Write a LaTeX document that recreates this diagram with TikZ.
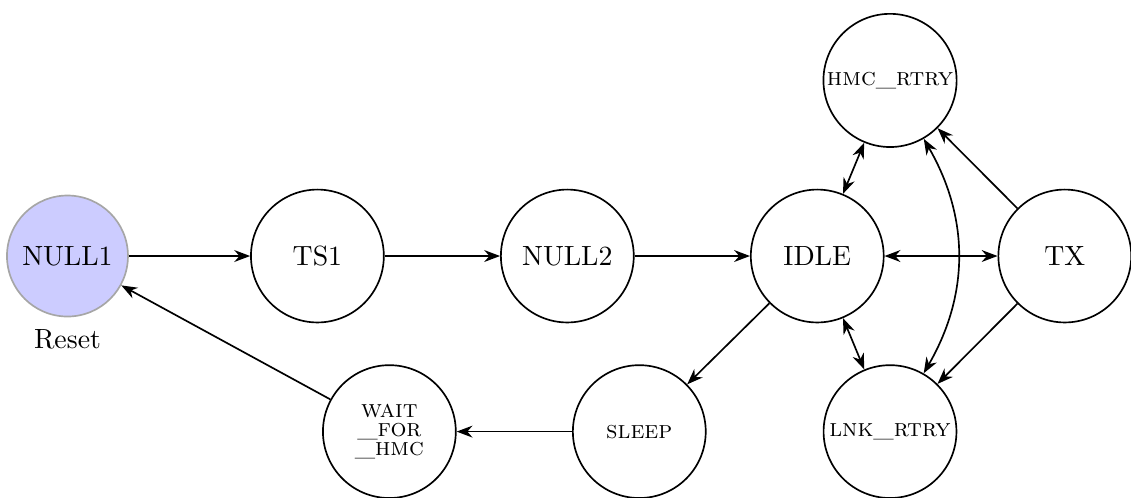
\documentclass[tikz,border=0pt]{standalone}
\usetikzlibrary{arrows.meta,
                positioning}

\begin{document}
\begin{tikzpicture}[
        node distance=3.16cm,
        state/.style={circle, minimum size=1.68cm, inner sep=1pt, text centered, draw=black, semithick},
        start/.style={circle, minimum size=1.53cm, inner sep=1pt, text centered, draw=gray!70, semithick, fill=blue!20},
        minor/.style={state, font=\small\scshape, align=center}
        ]
        \useasboundingbox (0,0) rectangle (14.30,6.296);

        \node (null1)   [start, label={[label distance=1pt]below:Reset}] at (0.853,3.059) {NULL1};
        \node (ts1)     [state, right of=null1]                                 {TS1};
        \node (null2)   [state, right of=ts1]                                   {NULL2};
        \node (idle)    [state, right of=null2]                                 {IDLE};
        \node (tx)      [state, right of=idle, xshift=-0.03cm]                  {TX};
        \node (hmcrtry) [minor, above of=idle, xshift=0.92cm, yshift=-0.94cm]   {hmc\_rtry};
        \node (lnkrtry) [minor, below of=idle, xshift=0.92cm, yshift=0.94cm]    {lnk\_rtry};
        \node (sleep)   [minor, below of=null2, xshift=0.91cm, yshift=0.94cm]   {sleep};
        \node (waithmc) [minor, below of=ts1, xshift=0.91cm, yshift=0.94cm]     {wait\\[-4pt]\_for\\[-4pt]\_hmc};

        \draw [arrows=-Stealth, semithick] (null1) -- (ts1);
        \draw [arrows=-Stealth, semithick] (ts1) -- (null2);
        \draw [arrows=-Stealth, semithick] (null2) -- (idle);
        \draw [arrows=Stealth-Stealth, semithick] (idle) -- (tx);
        \draw [arrows=Stealth-Stealth, semithick] (idle) -- (hmcrtry);
        \draw [arrows=Stealth-Stealth, semithick] (idle) -- (lnkrtry);
        \draw [arrows=Stealth-Stealth, semithick] (hmcrtry.-60) to [bend left=30] (lnkrtry.60);
        \draw [arrows=-Stealth, semithick] (tx) -- (hmcrtry);
        \draw [arrows=-Stealth, semithick] (tx) -- (lnkrtry);
        \draw [arrows=-Stealth, semithick] (idle) -- (sleep);
        \draw [arrows=-Stealth, semithick] (sleep) -- (waithmc);
        \draw [arrows=-Stealth, semithick] (waithmc) -- (null1);

    \end{tikzpicture}
\end{document}
